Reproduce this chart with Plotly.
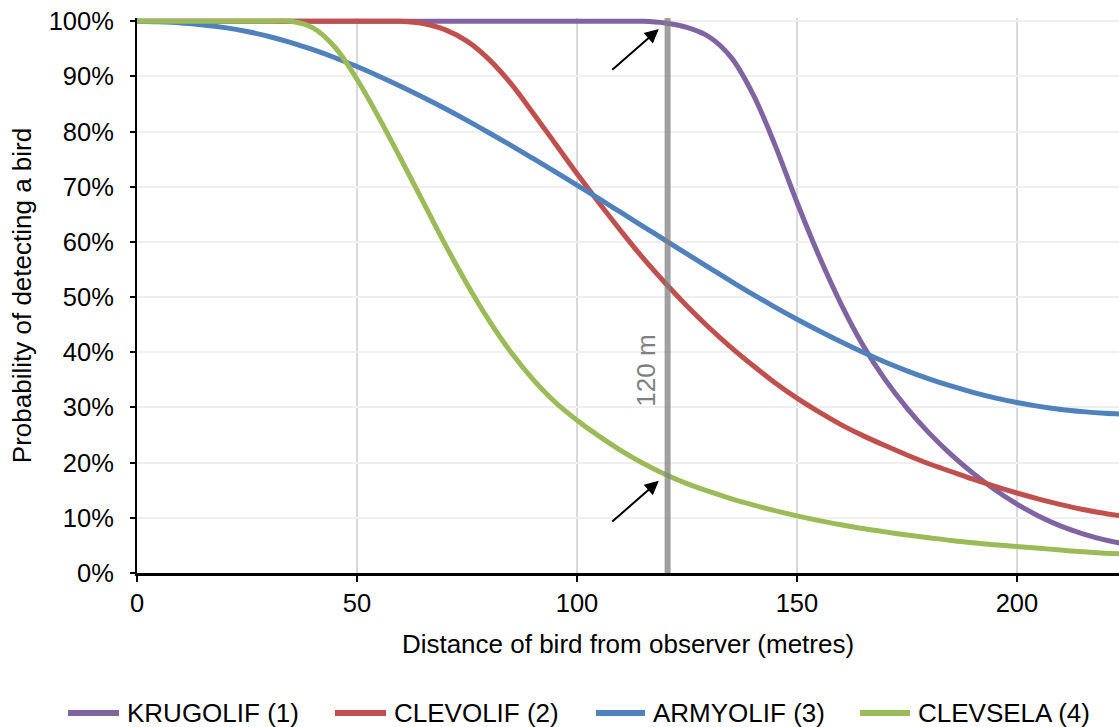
import plotly.graph_objects as go

# ---------------- data ----------------
DIST = [0, 5, 10, 15, 20, 25, 30, 35, 40, 45, 50, 55, 60, 65, 70, 75, 80, 85, 90, 95,
        100, 105, 110, 115, 120, 125, 130, 135, 140, 145, 150, 155, 160, 165, 170, 175,
        180, 185, 190, 195, 200, 205, 210, 215, 220, 225]

KRUGOLIF = [100, 100, 100, 100, 100, 100, 100, 100, 100, 100, 100, 100, 100, 100, 100, 100,
            100, 100, 100, 100, 100, 100, 100, 100, 99.7, 98.9, 97.2, 93.5, 86.8, 77.6,
            67.2, 57.5, 48.8, 41.3, 35.1, 29.9, 25.4, 21.5, 18.1, 15.1, 12.5, 10.3, 8.5,
            7.1, 6.0, 5.2]

CLEVOLIF = [100, 100, 100, 100, 100, 100, 100, 100, 100, 100, 100, 100, 100, 99.6, 98.5,
            96.4, 93.1, 88.7, 83.4, 77.9, 72.4, 67.1, 62.0, 57.1, 52.6, 48.4, 44.5, 40.9,
            37.6, 34.5, 31.7, 29.2, 26.9, 24.9, 23.1, 21.4, 19.8, 18.4, 17.0, 15.7, 14.5,
            13.4, 12.4, 11.5, 10.8, 10.2]

ARMYOLIF = [100, 99.9, 99.7, 99.35, 98.85, 98.15, 97.25, 96.15, 94.85, 93.4, 91.8, 90.05,
            88.2, 86.25, 84.2, 82.05, 79.8, 77.5, 75.15, 72.75, 70.3, 67.85, 65.35, 62.85,
            60.35, 57.85, 55.35, 52.9, 50.5, 48.2, 46.0, 43.9, 41.9, 40.0, 38.25, 36.65,
            35.2, 33.9, 32.75, 31.75, 30.9, 30.2, 29.65, 29.25, 28.95, 28.75]

CLEVSELA = [100, 100, 100, 100, 100, 100, 100, 100, 98.8, 95.3, 89.5, 82.5, 75.0, 67.3,
            59.6, 52.4, 45.8, 40.0, 35.1, 31.0, 27.7, 24.8, 22.2, 19.9, 17.9, 16.2, 14.8,
            13.5, 12.35, 11.3, 10.35, 9.5, 8.75, 8.05, 7.45, 6.9, 6.4, 5.9, 5.5, 5.1, 4.8,
            4.5, 4.15, 3.85, 3.6, 3.4]

SERIES_NAMES = ["KRUGOLIF (1)", "CLEVOLIF (2)", "ARMYOLIF (3)", "CLEVSELA (4)"]
SERIES_VALUES = [KRUGOLIF, CLEVOLIF, ARMYOLIF, CLEVSELA]
COLORS = ["#8064A2", "#C0504D", "#4F81BD", "#9BBB59"]

MARK_DISTANCE = 120.6          # the "120 m" reference line
MARK_LABEL = "120 m"
X_TICKS = [0, 50, 100, 150, 200]
Y_TICKS = [0, 10, 20, 30, 40, 50, 60, 70, 80, 90, 100]
X_TITLE = "Distance of bird from observer (metres)"
Y_TITLE = "Probability of detecting a bird"

# ---------------- layout geometry ----------------
W, H = 1119, 727
ML, MR, MT, MB = 137, 0, 18, 154
PW, PH = W - ML - MR, H - MT - MB
FONT = "Liberation Sans, Arial, sans-serif"


def px_to_paper_x(px):
    return (px - ML) / PW


def px_to_paper_y(py):
    return (H - MB - py) / PH


fig = go.Figure()

for name, vals, col in zip(SERIES_NAMES, SERIES_VALUES, COLORS):
    fig.add_trace(go.Scatter(
        x=DIST, y=vals, name=name, mode="lines",
        line=dict(color=col, width=5, shape="spline", smoothing=1.0),
        showlegend=False, hoverinfo="skip"))

# vertical 120 m reference line (drawn over the curves, semi transparent)
fig.add_shape(type="line", xref="x", yref="paper",
              x0=MARK_DISTANCE, x1=MARK_DISTANCE, y0=0, y1=1,
              line=dict(color="rgba(128,128,128,0.75)", width=6), layer="above")

# label of the reference line
fig.add_annotation(x=115.6, y=36.6, xref="x", yref="y", text=MARK_LABEL,
                   textangle=-90, showarrow=False, xanchor="center", yanchor="middle",
                   font=dict(family=FONT, size=26, color="#7f7f7f"))

# arrows pointing at the intersections with the 120 m line
for ytip in (98.6, 16.7):
    fig.add_annotation(x=118.6, y=ytip, xref="x", yref="y", text="",
                       showarrow=True, arrowhead=2, arrowsize=1.4, arrowwidth=2,
                       arrowcolor="black", ax=-48, ay=42)

# custom legend at the bottom (line samples + text)
LEG_Y = 713
LEG_LINES = [(65, 122), (332, 389), (593, 648), (857, 913)]
for (x0, x1), name, col in zip(LEG_LINES, SERIES_NAMES, COLORS):
    fig.add_shape(type="line", xref="paper", yref="paper",
                  x0=px_to_paper_x(x0 + 3), x1=px_to_paper_x(x1 - 3),
                  y0=px_to_paper_y(LEG_Y), y1=px_to_paper_y(LEG_Y),
                  line=dict(color=col, width=6))
    fig.add_annotation(x=px_to_paper_x(x1 + 3), y=px_to_paper_y(LEG_Y),
                       xref="paper", yref="paper", text=name, showarrow=False,
                       xanchor="left", yanchor="middle",
                       font=dict(family=FONT, size=26, color="black"))

fig.update_layout(
    width=W, height=H,
    margin=dict(l=ML, r=MR, t=MT, b=MB, pad=0),
    paper_bgcolor="white", plot_bgcolor="white",
    font=dict(family=FONT, size=26, color="black"),
    showlegend=False,
    xaxis=dict(
        range=[0, 223.2], tickvals=X_TICKS, ticktext=[str(v) for v in X_TICKS],
        showgrid=True, gridcolor="#d9d9d9", gridwidth=1.5,
        showline=True, linecolor="black", linewidth=2.5,
        ticks="outside", ticklen=6, tickwidth=2, tickcolor="black",
        tickfont=dict(family=FONT, size=25.5, color="black"),
        zeroline=False,
        title=dict(text=X_TITLE, font=dict(family=FONT, size=26, color="black"),
                   standoff=19),
    ),
    yaxis=dict(
        range=[0, 100.6], tickvals=Y_TICKS, ticktext=[f"{v}%" for v in Y_TICKS],
        showgrid=True, gridcolor="#efefef", gridwidth=1.5,
        showline=True, linecolor="black", linewidth=2,
        ticks="outside", ticklen=5, tickwidth=1.5, tickcolor="black",
        tickfont=dict(family=FONT, size=25.5, color="black"),
        ticklabelstandoff=11,
        zeroline=False,
        title=dict(text=Y_TITLE, font=dict(family=FONT, size=26, color="black"),
                   standoff=10),
    ),
)

fig.write_html("out.html")
